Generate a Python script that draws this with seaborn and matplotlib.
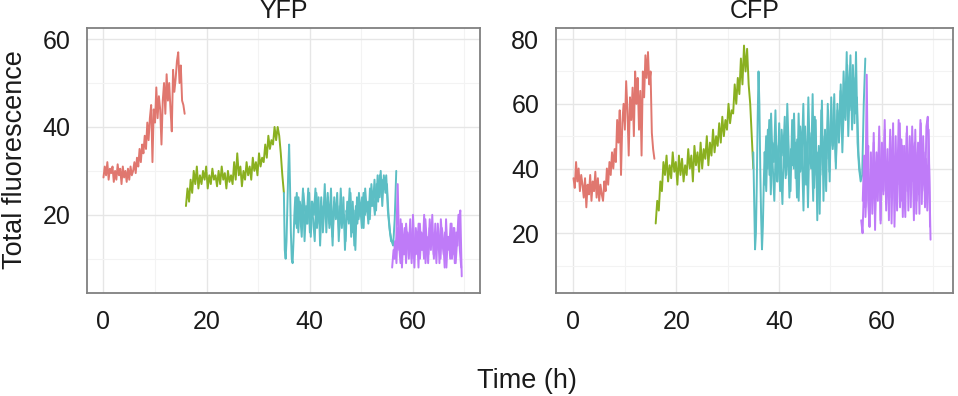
import numpy as np
import pandas as pd
import matplotlib
matplotlib.use("Agg")
import matplotlib.pyplot as plt
from matplotlib.ticker import MultipleLocator
import seaborn as sns

# ==========================================================
# Data (fluorescence per generation)
# ==========================================================

panels = ["YFP", "CFP"]
segments = ["gen1", "gen2", "gen3", "gen4"]
seg_colors = ["#E0776F", "#8AB020", "#5CBEC4", "#BF7BF8"]

# YFP
yfp_red_span = (0.0, 15.75)
yfp_red = [28.5, 31, 29, 32, 28, 30.5, 29.5, 31, 27.5, 30, 28, 31.5, 29, 30.5, 27, 31,
           28.5, 30, 27.5, 30.5, 28, 31, 29, 30,
           32, 29.5, 33, 31, 35, 32, 36, 34,
           38, 35, 41, 37, 42,
           45, 32, 44, 41,
           49, 42, 47, 44,
           36, 46, 50, 43,
           52, 46, 50, 44,
           39, 53, 48, 51,
           55, 57, 50, 54, 46, 45, 43]

yfp_green_span = (16.0, 35.0)
yfp_green = [22, 26, 23, 28, 25, 30, 27, 31, 26, 29,
             27, 30, 28, 31, 26, 29, 27, 30.5, 28, 29,
             26.5, 30, 27, 31, 28, 29.5, 26, 30, 27.5, 29,
             27, 32, 28, 34, 29, 31, 26.5, 30, 28, 32,
             29, 31, 28, 33, 30, 32, 29, 34, 31, 33,
             32, 36, 33, 38, 35, 37, 36, 40, 37, 40,
             38, 34, 29, 25]

yfp_cyan_dip_span = (35.0, 37.2)
yfp_cyan_dip = [25, 12, 10, 14, 22, 30, 36, 27, 16, 10, 9, 14, 20, 24]

yfp_cyan_span = (37.2, 56.8)
yfp_cyan = [18, 25, 16, 23, 19, 26, 14, 22, 18, 25,
            15, 23, 20, 26, 17, 24, 13, 22, 19, 27,
            16, 24, 18, 26, 15, 23, 20, 25, 14, 22,
            17, 24, 12, 21, 19, 26, 15, 23, 13, 22,
            18, 25, 20, 24, 17, 26, 21, 23, 19, 27,
            22, 28, 21, 29, 24, 30, 22, 29, 25, 27,
            20, 16, 14, 13, 19, 30]

yfp_cyan_b_span = (37.2, 55.8)
yfp_cyan_b = [22, 17, 24, 20, 15, 25, 21, 18, 26, 16,
              23, 19, 14, 25, 21, 18, 24, 16, 22, 20,
              25, 17, 21, 13, 24, 19, 22, 16, 26, 18,
              20, 14, 23, 18, 25, 16, 21, 12, 24, 19,
              22, 17, 25, 20, 23, 18, 26, 22, 24, 20,
              27, 23, 29, 24, 28, 26, 29, 21, 17, 14]

yfp_purple_span = (56.0, 69.5)
yfp_purple = [8, 12, 10, 15, 27, 13, 9, 18,
              11, 17, 9, 16, 12, 19, 10, 15, 8, 17, 13,
              18, 10, 16, 12, 20, 9, 15, 11, 19, 13, 16,
              10, 18, 12, 17, 9, 19, 14, 11, 16, 8, 15,
              12, 18, 10, 17, 9, 16, 13, 19, 21, 6]

yfp_purple_b_span = (56.3, 69.4)
yfp_purple_b = [10, 14, 9, 17, 12, 19, 8, 15, 11, 18,
                14, 10, 17, 9, 20, 13, 11, 16, 8, 18,
                12, 15, 10, 19, 14, 9, 17, 12, 20, 11,
                16, 9, 18, 13, 10, 17, 14, 8, 19, 12,
                15, 10, 18, 11, 17, 9, 14, 20, 12, 8]

# CFP
cfp_red_span = (0.0, 15.75)
cfp_red = [37, 34, 42, 36, 40, 33, 38, 35, 31, 37, 28, 35, 32, 38, 30, 36,
           33, 39, 31, 37, 30, 35, 32, 30,
           36, 33, 40, 35, 42, 38, 45, 40,
           46, 42, 55, 48, 58,
           38, 54, 60, 52,
           67, 58, 44, 62,
           55, 65, 50, 70,
           60, 68, 52, 64,
           44, 70, 62, 75,
           68, 76, 66, 70, 51, 46, 43]

cfp_green_span = (16.0, 35.0)
cfp_green = [23, 30, 27, 36, 33, 42, 38, 44, 36, 41,
             37, 45, 39, 42, 35, 44, 38, 43, 36, 41,
             38, 46, 40, 44, 36, 47, 41, 45, 39, 48,
             40, 46, 43, 50, 41, 48, 44, 52, 45, 50,
             47, 54, 48, 56, 50, 55, 52, 60, 54, 58,
             57, 66, 60, 68, 63, 74, 66, 78, 70, 77,
             66, 60, 50, 40]

cfp_cyan_dip_span = (35.0, 37.2)
cfp_cyan_dip = [45, 30, 15, 20, 35, 55, 70, 60, 40, 25, 15, 22, 35, 45]

cfp_cyan_span = (37.2, 56.8)
cfp_cyan = [35, 50, 40, 55, 32, 48, 42, 58, 36, 47,
            33, 52, 44, 56, 38, 50, 31, 46, 41, 57,
            37, 49, 30, 53, 44, 60, 35, 48, 28, 51,
            40, 63, 34, 55, 24, 47, 38, 61, 30, 52,
            43, 58, 36, 62, 46, 55, 40, 60, 48, 64,
            52, 70, 56, 76, 50, 66, 58, 72, 54, 76,
            48, 40, 36, 38, 60, 74]

cfp_cyan_b_span = (37.2, 55.8)
cfp_cyan_b = [45, 33, 52, 38, 57, 41, 30, 49, 36, 54,
              42, 29, 50, 37, 60, 44, 33, 55, 40, 48,
              31, 57, 39, 46, 27, 53, 35, 62, 42, 49,
              30, 56, 38, 45, 26, 58, 41, 50, 33, 60,
              39, 55, 47, 63, 42, 58, 50, 66, 45, 61,
              55, 72, 60, 75, 52, 68, 57, 62, 44, 38]

cfp_purple_span = (56.0, 69.5)
cfp_purple = [24, 20, 35, 28, 69, 30, 22, 45,
              26, 48, 21, 42, 30, 50, 23, 44, 33, 52, 27,
              46, 24, 50, 31, 54, 22, 43, 35, 55, 28, 49,
              25, 47, 33, 53, 27, 50, 36, 44, 24, 52, 30,
              48, 26, 54, 33, 45, 28, 53, 56, 40, 18]

cfp_purple_b_span = (56.3, 69.4)
cfp_purple_b = [30, 44, 25, 38, 47, 22, 40, 31, 51, 27,
                45, 35, 53, 24, 48, 32, 55, 29, 42, 36,
                52, 23, 46, 34, 50, 27, 41, 54, 30, 47,
                37, 25, 51, 33, 44, 28, 53, 39, 48, 26,
                45, 32, 55, 29, 50, 36, 43, 27, 52, 22]

x_ticks = [0, 20, 40, 60]
y_ticks = {"YFP": [20, 40, 60], "CFP": [20, 40, 60, 80]}
x_lims = {"YFP": (-3.2, 73.0), "CFP": (-3.4, 73.8)}
y_lims = {"YFP": (2.2, 62.5), "CFP": (1.5, 83.4)}

# ==========================================================
# Long-form table
# ==========================================================

pieces = [
    ("YFP", "gen1", yfp_red, yfp_red_span),
    ("YFP", "gen2", yfp_green, yfp_green_span),
    ("YFP", "gen3", yfp_cyan_dip, yfp_cyan_dip_span),
    ("YFP", "gen3", yfp_cyan, yfp_cyan_span),
    ("YFP", "gen3", yfp_cyan_b, yfp_cyan_b_span),
    ("YFP", "gen4", yfp_purple, yfp_purple_span),
    ("YFP", "gen4", yfp_purple_b, yfp_purple_b_span),
    ("CFP", "gen1", cfp_red, cfp_red_span),
    ("CFP", "gen2", cfp_green, cfp_green_span),
    ("CFP", "gen3", cfp_cyan_dip, cfp_cyan_dip_span),
    ("CFP", "gen3", cfp_cyan, cfp_cyan_span),
    ("CFP", "gen3", cfp_cyan_b, cfp_cyan_b_span),
    ("CFP", "gen4", cfp_purple, cfp_purple_span),
    ("CFP", "gen4", cfp_purple_b, cfp_purple_b_span),
]

frames = []
for k, (panel, seg, vals, (t0, t1)) in enumerate(pieces):
    frames.append(pd.DataFrame({
        "panel": panel,
        "segment": seg,
        "piece": k,
        "time": np.linspace(t0, t1, len(vals)),
        "value": vals,
    }))
df = pd.concat(frames, ignore_index=True)

# ==========================================================
# Plot
# ==========================================================

sns.set_style("white")
plt.rcParams["font.family"] = ["Liberation Sans", "DejaVu Sans"]

fig = plt.figure(figsize=(9.58, 3.96), dpi=100)
axes = [fig.add_axes([0.0908, 0.260, 0.410, 0.669]),
        fig.add_axes([0.5804, 0.260, 0.414, 0.669])]

palette = dict(zip(segments, seg_colors))

for ax, panel in zip(axes, panels):
    sub = df[df["panel"] == panel]
    sns.lineplot(data=sub, x="time", y="value", hue="segment", hue_order=segments,
                 units="piece", estimator=None, palette=palette, sort=False,
                 legend=False, linewidth=1.4, ax=ax)

    ax.set_xlim(*x_lims[panel])
    ax.set_ylim(*y_lims[panel])
    ax.set_xticks(x_ticks)
    ax.set_yticks(y_ticks[panel])
    ax.xaxis.set_minor_locator(MultipleLocator(10))
    ax.yaxis.set_minor_locator(MultipleLocator(10))
    ax.grid(which="major", color="#E6E6E6", linewidth=1.0)
    ax.grid(which="minor", color="#F3F3F3", linewidth=0.8)
    ax.set_axisbelow(True)

    ax.tick_params(which="major", direction="out", length=7, width=1.2,
                   color="#333333", labelsize=18, labelcolor="#1a1a1a", pad=5)
    ax.tick_params(which="minor", length=0)
    for s in ax.spines.values():
        s.set_visible(True)
        s.set_color("#808080")
        s.set_linewidth(1.3)

    ax.set_xlabel("")
    ax.set_ylabel("")
    ax.set_title(panel, fontsize=18, pad=7, color="#1a1a1a")

fig.text(0.550, 0.020, "Time (h)", ha="center", va="baseline", fontsize=19.5, color="#1a1a1a")
fig.text(0.016, 0.596, "Total fluorescence", ha="center", va="center", rotation=90,
         fontsize=19.5, color="#1a1a1a")

fig.savefig("out.png", dpi=100)
